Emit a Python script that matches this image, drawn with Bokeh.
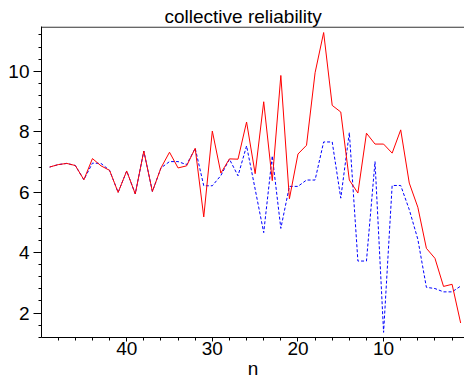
from bokeh.plotting import figure
from bokeh.models import Range1d, SingleIntervalTicker, Span
from bokeh.embed import file_html
from bokeh.resources import INLINE

# group size, counted down from 49 to 1
n = list(range(49, 0, -1))

# collective reliability, first estimate (solid red)
rel_a = [6.83, 6.91, 6.95, 6.88, 6.41, 7.11, 6.87, 6.72, 5.99, 6.70,
         5.94, 7.36, 6.02, 6.80, 7.32, 6.80, 6.87, 7.45, 5.18, 8.02,
         6.63, 7.10, 7.09, 8.32, 6.61, 8.99, 6.38, 9.86, 5.78, 7.26,
         7.55, 9.95, 11.28, 8.87, 8.65, 6.40, 5.97, 7.95, 7.59, 7.59,
         7.29, 8.06, 6.30, 5.50, 4.14, 3.81, 2.88, 2.95, 1.67]

# collective reliability, second estimate (dashed blue)
rel_b = [6.83, 6.91, 6.95, 6.88, 6.41, 6.96, 6.95, 6.72, 5.99, 6.70,
         5.94, 7.36, 6.02, 6.80, 7.01, 7.01, 6.91, 7.45, 6.21, 6.21,
         6.55, 7.09, 6.54, 7.53, 6.10, 4.66, 7.20, 4.80, 6.19, 6.19,
         6.40, 6.40, 7.66, 7.66, 5.80, 7.97, 3.72, 3.72, 7.01, 1.36,
         6.22, 6.22, 5.42, 4.44, 2.85, 2.81, 2.70, 2.70, 2.89]

FONT = "Liberation Sans"
Y0, Y1 = 1.19, 11.48

p = figure(width=464, height=381, output_backend="svg", toolbar_location=None,
           x_range=Range1d(49.95, 0.55), y_range=Range1d(Y0, Y1),
           min_border_left=41, min_border_right=0, min_border_top=26,
           min_border_bottom=42, x_axis_label="n")

p.title.text = "collective reliability"
p.title.text_font = FONT
p.title.text_font_size = "19px"
p.title.text_font_style = "normal"
p.title.text_color = "black"
p.title.align = "left"
p.title.offset = 123
p.title.standoff = 0

p.outline_line_color = None
p.grid.visible = False
p.background_fill_color = "white"
p.border_fill_color = "white"

xa = p.below[0]
ya = p.left[0]
xa.ticker = SingleIntervalTicker(interval=10, num_minor_ticks=5)
ya.ticker = SingleIntervalTicker(interval=2, num_minor_ticks=5)

for ax in (xa, ya):
    ax.major_label_text_font = FONT
    ax.major_label_text_font_size = "19px"
    ax.major_label_text_color = "black"
    ax.axis_line_color = "black"
    ax.major_tick_line_color = "black"
    ax.minor_tick_line_color = "black"
    ax.major_tick_in = 0
    ax.minor_tick_in = 0
    ax.axis_label_text_font = FONT
    ax.axis_label_text_font_size = "19px"
    ax.axis_label_text_font_style = "normal"
    ax.axis_label_text_color = "black"

xa.major_tick_out = 4
xa.minor_tick_out = 3
xa.major_label_standoff = 0
xa.axis_label_standoff = 0
ya.major_tick_out = 8
ya.minor_tick_out = 3
ya.major_label_standoff = 4

# plain line along the top of the frame
p.add_layout(Span(location=Y1 - 0.02, dimension="width",
                  line_color="black", line_width=1))

p.line(n, rel_b, line_color="#0000ff", line_width=1, line_dash="3 2")
p.line(n, rel_a, line_color="#ff0000", line_width=1)

open("out.html", "w").write(file_html(p, INLINE))
